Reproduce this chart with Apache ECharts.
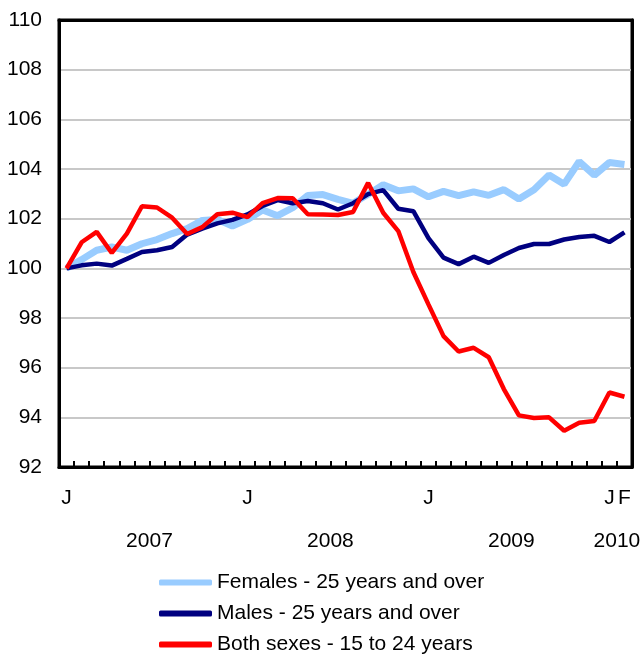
<!DOCTYPE html>
<html>
<head>
<meta charset="utf-8">
<script src="https://cdn.jsdelivr.net/npm/echarts@6/dist/echarts.min.js"></script>
<style>html,body{margin:0;padding:0;background:#fff;}#c{width:644px;height:654px;}</style>
</head>
<body>
<div id="c"></div>
<script>
// Monthly categories Jan 2007 .. Feb 2010
var months = [];
(function(){
  for (var y = 2007; y <= 2010; y++) {
    for (var k = 0; k < 12; k++) {
      if (y === 2010 && k > 1) break;
      months.push(y + '-' + (k + 1));
    }
  }
})();
var monthLabels = ['J','','','','','','','','','','','',
                   'J','','','','','','','','','','','',
                   'J','','','','','','','','','','','',
                   'J','F'];
var yearLabels = ['2007','2008','2009','2010'];
var yearPositions = [6, 18, 30, 37];
var yTicks = [92, 94, 96, 98, 100, 102, 104, 106, 108, 110];

var females = [100, 100.35, 100.73, 100.86, 100.73, 100.99, 101.16, 101.4, 101.6, 101.93,
  101.97, 101.7, 101.97, 102.35, 102.12, 102.44, 102.93, 102.97, 102.78, 102.62,
  102.98, 103.37, 103.12, 103.2, 102.88, 103.1, 102.93, 103.08, 102.94, 103.17,
  102.79, 103.16, 103.76, 103.39, 104.3, 103.75, 104.26, 104.18];
var males = [100, 100.12, 100.19, 100.11, 100.38, 100.66, 100.73, 100.86, 101.36, 101.6,
  101.81, 101.95, 102.17, 102.51, 102.75, 102.62, 102.71, 102.62, 102.37, 102.62,
  102.99, 103.15, 102.4, 102.3, 101.22, 100.43, 100.17, 100.47, 100.22, 100.54,
  100.82, 100.98, 100.98, 101.16, 101.26, 101.31, 101.06, 101.45];
var youth = [100, 101.05, 101.47, 100.62, 101.4, 102.5, 102.45, 102.04, 101.38, 101.66,
  102.18, 102.24, 102.06, 102.63, 102.83, 102.82, 102.18, 102.17, 102.15, 102.27,
  103.44, 102.24, 101.5, 99.85, 98.55, 97.27, 96.65, 96.8, 96.42, 95.14,
  94.08, 93.97, 94.0, 93.46, 93.78, 93.85, 95.0, 94.83];

var seriesNames = ['Females - 25 years and over', 'Males - 25 years and over', 'Both sexes - 15 to 24 years'];
var colors = ['#99CCFF', '#000080', '#FF0000'];

var FONT = '"Liberation Sans", Arial, sans-serif';
var chart = echarts.init(document.getElementById('c'));
chart.setOption({
  animation: false,
  backgroundColor: '#fff',
  grid: {left: 59, right: 12, top: 20, bottom: 187, show: true, borderColor: '#000', borderWidth: 3, backgroundColor: 'transparent'},
  legend: {
    orient: 'vertical', left: 159, top: 572, height: 100, padding: 0,
    itemWidth: 53, itemHeight: 6, itemGap: 10,
    icon: 'roundRect',
    textStyle: {fontFamily: FONT, fontSize: 21, color: '#000'},
    data: seriesNames
  },
  xAxis: [{
    type: 'category', data: months, boundaryGap: true,
    axisLine: {show: true, lineStyle: {color: '#000', width: 3}},
    axisTick: {show: true, inside: true, length: 6, interval: 0, lineStyle: {color: '#000', width: 2}},
    axisLabel: {interval: 0, margin: 21, fontFamily: FONT, fontSize: 21, color: '#000',
      formatter: function(v, i){ return monthLabels[i]; }},
    splitLine: {show: false}
  }, {
    type: 'value', min: 0, max: 38, position: 'bottom', offset: 44,
    axisLine: {show: false}, axisTick: {show: false}, splitLine: {show: false},
    axisLabel: {show: true, customValues: yearPositions, margin: 20, fontFamily: FONT, fontSize: 21, color: '#000',
      formatter: function(v){ var i = yearPositions.indexOf(v); return i >= 0 ? yearLabels[i] : ''; }}
  }, {
    type: 'category', data: months, position: 'top',
    axisLine: {show: true, lineStyle: {color: '#000', width: 3}},
    axisTick: {show: false}, axisLabel: {show: false}, splitLine: {show: false}
  }],
  yAxis: [{
    type: 'value', min: yTicks[0], max: yTicks[yTicks.length - 1], interval: 2,
    axisLine: {show: true, lineStyle: {color: '#000', width: 3}},
    axisTick: {show: false},
    axisLabel: {margin: 17, fontFamily: FONT, fontSize: 21, color: '#000'},
    splitLine: {show: true, lineStyle: {color: '#c8c8c8', width: 2}}
  }, {
    type: 'value', min: yTicks[0], max: yTicks[yTicks.length - 1], interval: 2, position: 'right',
    axisLine: {show: true, lineStyle: {color: '#000', width: 3}},
    axisTick: {show: false}, axisLabel: {show: false}, splitLine: {show: false}
  }],
  series: [
    {name: seriesNames[0], type: 'line', data: females, showSymbol: false, z: 2,
     lineStyle: {color: colors[0], width: 7}, itemStyle: {color: colors[0]}},
    {name: seriesNames[1], type: 'line', data: males, showSymbol: false, z: 3,
     lineStyle: {color: colors[1], width: 4.5}, itemStyle: {color: colors[1]}},
    {name: seriesNames[2], type: 'line', data: youth, showSymbol: false, z: 4,
     lineStyle: {color: colors[2], width: 4.5}, itemStyle: {color: colors[2]}}
  ]
});
</script>
</body>
</html>
